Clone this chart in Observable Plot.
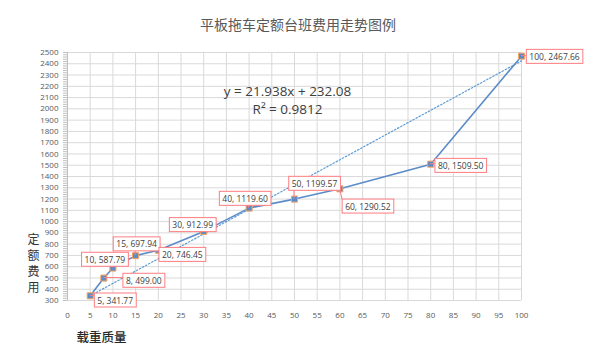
<!DOCTYPE html>
<html><head><meta charset="utf-8">
<script src="https://cdn.jsdelivr.net/npm/d3@7"></script>
<script src="https://cdn.jsdelivr.net/npm/@observablehq/plot@0.6"></script>
<style>
body{margin:0;background:#fff;font-family:"Open Sans","Noto Sans CJK SC",sans-serif;}
#title{height:40px;box-sizing:border-box;padding-top:15px;text-align:center;font-size:14px;line-height:18px;color:#595959;font-family:"Noto Sans CJK SC",sans-serif;}
#chart svg{display:block;}
</style></head><body>
<div id="title">平板拖车定额台班费用走势图例</div>
<div id="chart"></div>
<script>
const loads = [5, 8, 10, 15, 20, 30, 40, 50, 60, 80, 100];
const costs = [341.77, 499.00, 587.79, 697.94, 746.45, 912.99, 1119.60, 1199.57, 1290.52, 1509.50, 2467.66];
const xTicks = d3.range(0, 101, 5);
const yTicks = d3.range(300, 2501, 100);
const yMinorTicks = d3.range(300, 2501, 20);
const trendSlope = 21.938, trendIntercept = 232.08, rSquared = 0.9812;
const xLabel = "载重质量";
const yLabelChars = ["定", "额", "费", "用"];
// pixel offsets of each data label (layout only)
const labelOffsets = [[25,5],[40,3],[-8,-8],[1,-11],[24,5],[-11,-6],[-4,-9],[20,-15],[28,18],[30,2],[33,1]];

const data = loads.map((x, i) => ({x, y: costs[i]}));
const fmtLabel = d => `${d.x}, ${d.y.toFixed(2)}`;
const labelTexts = new Set(data.map(fmtLabel));
const xMin = d3.min(loads), xMax = d3.max(loads);
const trend = [xMin, xMax].map(x => ({x, y: trendSlope * x + trendIntercept}));

const labelMarks = data.map((d, i) => Plot.text([d], {
  x: "x", y: "y", text: fmtLabel, dx: labelOffsets[i][0], dy: labelOffsets[i][1],
  fontSize: 8.5, fill: "#404040", textAnchor: "middle"
}));
const yLabelMarks = yLabelChars.map((c, i) => Plot.text([c], {
  frameAnchor: "left", dx: -40, dy: 64 + i * 16, lineAnchor: "middle",
  fontSize: 12, fill: "#333", fontFamily: "'Noto Sans CJK SC', sans-serif"
}));

const plot = Plot.plot({
  width: 596, height: 313,
  marginLeft: 67, marginRight: 75, marginTop: 12, marginBottom: 53,
  style: {fontFamily: "'Open Sans', sans-serif", background: "#fff"},
  x: {domain: [0, 100]},
  y: {domain: [300, 2500]},
  marks: [
    Plot.gridX(xTicks, {stroke: "#d9d9d9", strokeOpacity: 1}),
    Plot.gridY(yTicks, {stroke: "#d9d9d9", strokeOpacity: 1}),
    Plot.ruleX([0], {stroke: "#bfbfbf"}),
    Plot.axisY({ticks: yMinorTicks, tickSize: 4, tickFormat: () => "", stroke: "#bfbfbf", label: null}),
    Plot.axisY({ticks: yTicks, tickSize: 0, tickPadding: 9, fontSize: 8, fill: "#595959", label: null, tickFormat: d => String(d)}),
    Plot.axisX({ticks: xTicks, tickSize: 0, tickPadding: 12, fontSize: 8, fill: "#595959", label: null, tickFormat: d => String(d)}),
    Plot.line(trend, {x: "x", y: "y", stroke: "#5B9BD5", strokeWidth: 1.2, strokeDasharray: "1.5,2"}),
    Plot.line(data, {x: "x", y: "y", stroke: "#5B8BC9", strokeWidth: 1.6}),
    Plot.dot(data, {x: "x", y: "y", symbol: "square", r: 3.4, fill: "#5B8BC9", stroke: "#F4A460", strokeWidth: 1}),
    ...labelMarks,
    Plot.text([`y = ${trendSlope}x + ${trendIntercept}\nR² = ${rSquared}`], {
      frameAnchor: "top", dx: -7, dy: 47, lineAnchor: "middle", lineHeight: 1.3,
      fontSize: 13.5, fill: "#404040"
    }),
    ...yLabelMarks,
    Plot.text([xLabel], {
      frameAnchor: "bottom-left", dx: 34, dy: 41, textAnchor: "middle",
      fontSize: 12.5, fill: "#262626", fontWeight: 500, fontFamily: "'Noto Sans CJK SC', sans-serif"
    })
  ]
});
document.getElementById("chart").appendChild(plot);

// callout boxes and leader lines
const NS = "http://www.w3.org/2000/svg";
const sx = plot.scale("x"), sy = plot.scale("y");
const labelEls = Array.from(plot.querySelectorAll("text")).filter(t => labelTexts.has(t.textContent));
const leaderG = document.createElementNS(NS, "g");
if (labelEls.length) {
  let top = labelEls[0];
  while (top.parentNode !== plot) top = top.parentNode;
  plot.insertBefore(leaderG, top);
}
const svgPt = plot.createSVGPoint();
labelEls.forEach(t => {
  const d = data.find(e => fmtLabel(e) === t.textContent);
  const bb = t.getBBox();
  const padX = 3, padY = 1.5;
  const rect = document.createElementNS(NS, "rect");
  rect.setAttribute("x", bb.x - padX); rect.setAttribute("y", bb.y - padY);
  rect.setAttribute("width", bb.width + 2 * padX); rect.setAttribute("height", bb.height + 2 * padY);
  rect.setAttribute("fill", "#fff"); rect.setAttribute("stroke", "#FF7C80"); rect.setAttribute("stroke-width", 1);
  const tr = t.getAttribute("transform");
  if (tr) rect.setAttribute("transform", tr);
  t.parentNode.insertBefore(rect, t);
  const m = t.getCTM();
  svgPt.x = bb.x - padX; svgPt.y = bb.y - padY;
  const p0 = svgPt.matrixTransform(m);
  const x0 = p0.x, y0 = p0.y;
  const x1 = x0 + bb.width + 2 * padX, y1 = y0 + bb.height + 2 * padY;
  const px = sx.apply(d.x), py = sy.apply(d.y);
  const cx = Math.max(x0, Math.min(x1, px)), cy = Math.max(y0, Math.min(y1, py));
  if (Math.hypot(cx - px, cy - py) > 1) {
    const ln = document.createElementNS(NS, "line");
    ln.setAttribute("x1", px); ln.setAttribute("y1", py); ln.setAttribute("x2", cx); ln.setAttribute("y2", cy);
    ln.setAttribute("stroke", "#FF7C80"); ln.setAttribute("stroke-width", 1);
    leaderG.appendChild(ln);
  }
});
</script>
</body></html>
